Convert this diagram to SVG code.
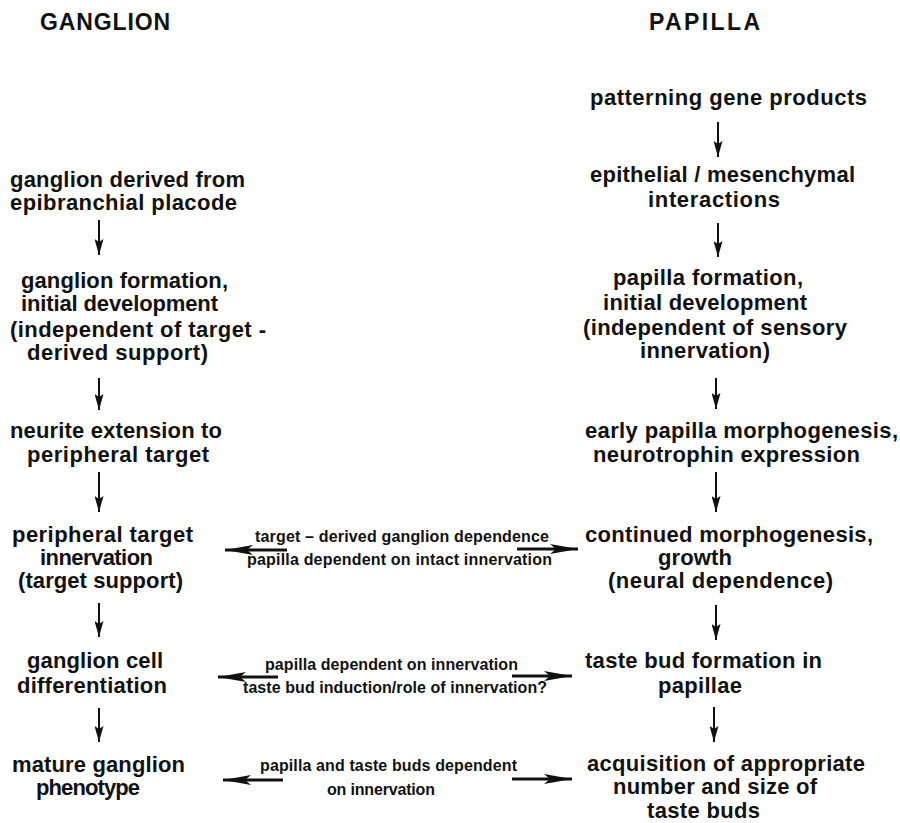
<svg xmlns="http://www.w3.org/2000/svg" width="900" height="823" viewBox="0 0 900 823">
<style>
text{font-family:"Liberation Sans",Arial,sans-serif;font-weight:bold;fill:#111}
.b{font-size:22px}
.h{font-size:23px}
.s{font-size:16px}
.v{stroke:#111;stroke-width:2;fill:none}
.hz{stroke:#111;stroke-width:3;fill:none}
</style>
<defs>
<marker id="av" viewBox="0 0 16 9" refX="16" refY="4.5" markerWidth="16" markerHeight="9" markerUnits="userSpaceOnUse" orient="auto"><path d="M0,0 L16,4.5 L0,9 L3,4.5 z" fill="#111"/></marker>
<marker id="ah" viewBox="0 0 28 10" refX="28" refY="5" markerWidth="28" markerHeight="10" markerUnits="userSpaceOnUse" orient="auto"><path d="M0,0 L28,5 L0,10 L6,5 z" fill="#111"/></marker>
</defs>
<rect width="900" height="823" fill="#fff"/>
<g id="hdr-ganglion"><text class="h" x="40" y="30" textLength="130">GANGLION</text></g>
<g id="hdr-papilla"><text class="h" x="649" y="30" textLength="111">PAPILLA</text></g>

<g id="g1"><text class="b" x="10" y="187" textLength="235">ganglion derived from</text><text class="b" x="10" y="210" textLength="227">epibranchial placode</text></g>
<g id="g2"><text class="b" x="21" y="288" textLength="207">ganglion formation,</text><text class="b" x="21" y="311" textLength="197">initial development</text><text class="b" x="10" y="337" textLength="256">(independent of target -</text><text class="b" x="27" y="360" textLength="181">derived support)</text></g>
<g id="g3"><text class="b" x="10" y="438" textLength="212">neurite extension to</text><text class="b" x="27" y="462" textLength="182">peripheral target</text></g>
<g id="g4"><text class="b" x="12" y="542" textLength="181">peripheral target</text><text class="b" x="40" y="565" textLength="113">innervation</text><text class="b" x="18" y="588" textLength="165">(target support)</text></g>
<g id="g5"><text class="b" x="27" y="668" textLength="136">ganglion cell</text><text class="b" x="17" y="693" textLength="150">differentiation</text></g>
<g id="g6"><text class="b" x="12" y="772" textLength="173">mature ganglion</text><text class="b" x="36" y="795" textLength="104">phenotype</text></g>

<g id="p1"><text class="b" x="590" y="105" textLength="277">patterning gene products</text></g>
<g id="p2"><text class="b" x="590" y="182" textLength="265">epithelial / mesenchymal</text><text class="b" x="648" y="207" textLength="132">interactions</text></g>
<g id="p3"><text class="b" x="613" y="285" textLength="190">papilla formation,</text><text class="b" x="603" y="310" textLength="204">initial development</text><text class="b" x="583" y="335" textLength="264">(independent of sensory</text><text class="b" x="640" y="358" textLength="130">innervation)</text></g>
<g id="p4"><text class="b" x="585" y="438" textLength="313">early papilla morphogenesis,</text><text class="b" x="593" y="462" textLength="267">neurotrophin expression</text></g>
<g id="p5"><text class="b" x="585" y="542" textLength="288">continued morphogenesis,</text><text class="b" x="658" y="565" textLength="74">growth</text><text class="b" x="608" y="588" textLength="225">(neural dependence)</text></g>
<g id="p6"><text class="b" x="585" y="668" textLength="237">taste bud formation in</text><text class="b" x="658" y="693" textLength="84">papillae</text></g>
<g id="p7"><text class="b" x="587" y="771" textLength="278">acquisition of appropriate</text><text class="b" x="613" y="794" textLength="204">number and size of</text><text class="b" x="647" y="818" textLength="113">taste buds</text></g>

<g id="connectors">
<line class="v" x1="99" y1="220" x2="99" y2="255" marker-end="url(#av)"/>
<line class="v" x1="99" y1="378" x2="99" y2="410" marker-end="url(#av)"/>
<line class="v" x1="99" y1="472" x2="99" y2="512" marker-end="url(#av)"/>
<line class="v" x1="99" y1="603" x2="99" y2="637" marker-end="url(#av)"/>
<line class="v" x1="99" y1="708" x2="99" y2="742" marker-end="url(#av)"/>
<line class="v" x1="718" y1="122" x2="718" y2="157" marker-end="url(#av)"/>
<line class="v" x1="718" y1="223" x2="718" y2="257" marker-end="url(#av)"/>
<line class="v" x1="716" y1="378" x2="716" y2="409" marker-end="url(#av)"/>
<line class="v" x1="716" y1="472" x2="716" y2="512" marker-end="url(#av)"/>
<line class="v" x1="716" y1="605" x2="716" y2="640" marker-end="url(#av)"/>
<line class="v" x1="714" y1="707" x2="714" y2="742" marker-end="url(#av)"/>

<line class="hz" x1="287" y1="550" x2="225" y2="550" marker-end="url(#ah)"/>
<line class="hz" x1="517" y1="549" x2="578" y2="549" marker-end="url(#ah)"/>
<line class="hz" x1="278" y1="677" x2="218" y2="677" marker-end="url(#ah)"/>
<line class="hz" x1="512" y1="676" x2="572" y2="676" marker-end="url(#ah)"/>
<line class="hz" x1="283" y1="780" x2="223" y2="780" marker-end="url(#ah)"/>
<line class="hz" x1="512" y1="779" x2="572" y2="779" marker-end="url(#ah)"/>

<text class="s" x="255" y="542" textLength="294">target – derived ganglion dependence</text>
<text class="s" x="247" y="565" textLength="305">papilla dependent on intact innervation</text>
<text class="s" x="265" y="670" textLength="253">papilla dependent on innervation</text>
<text class="s" x="243" y="693" textLength="304">taste bud induction/role of innervation?</text>
<text class="s" x="260" y="771" textLength="257">papilla and taste buds dependent</text>
<text class="s" x="327" y="795" textLength="108">on innervation</text>
</g>
</svg>
